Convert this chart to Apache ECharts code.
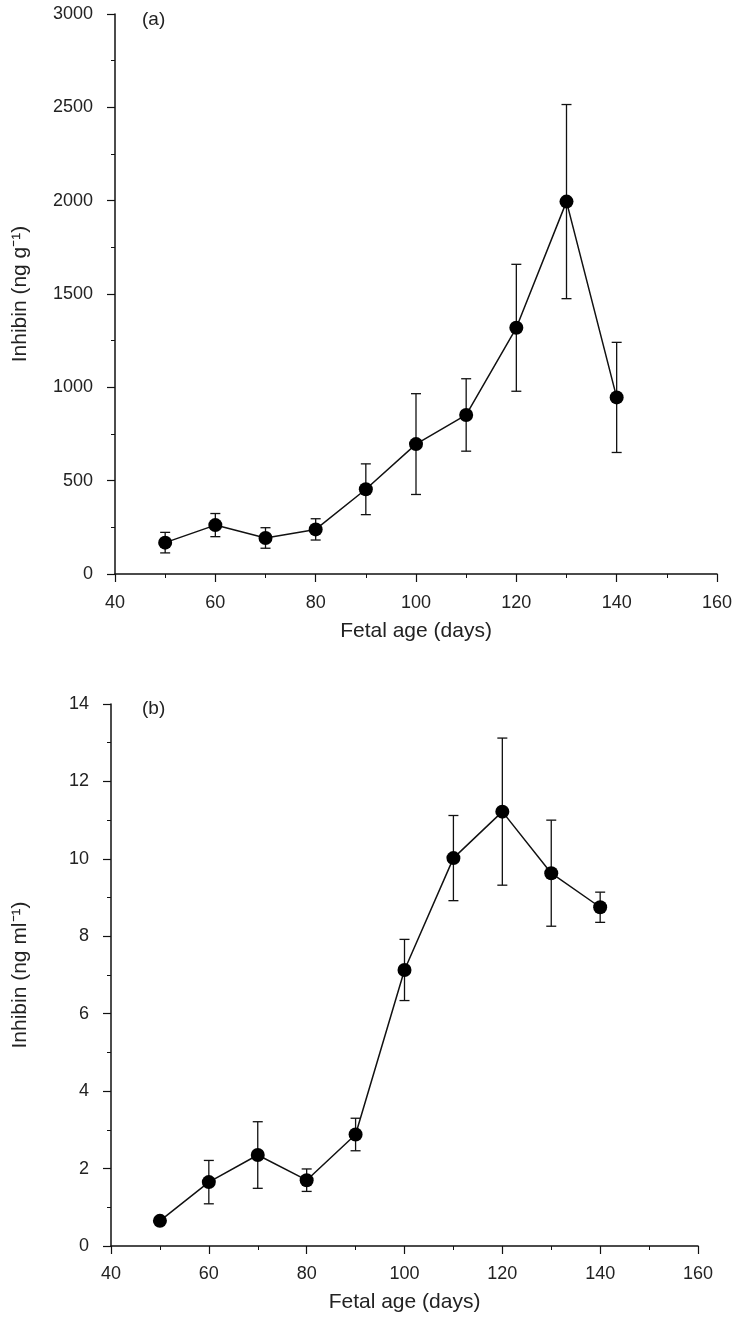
<!DOCTYPE html>
<html>
<head>
<meta charset="utf-8">
<script src="https://cdn.jsdelivr.net/npm/echarts@6/dist/echarts.min.js"></script>
<style>
html,body{margin:0;padding:0;background:#fff;}
#c{width:737px;height:1317px;}
</style>
</head>
<body>
<div id="c"></div>
<script>
// Panel (a): inhibin content (ng/g)
const agesA = [50, 60, 70, 80, 90, 100, 110, 120, 130, 140];
const meanA = [168, 262, 193, 239, 454, 696, 852, 1319, 1995, 946];
const errA  = [55, 62, 55, 57, 136, 270, 194, 340, 520, 295];

// Panel (b): inhibin concentration (ng/ml)
const agesB = [50, 60, 70, 80, 90, 100, 110, 120, 130, 140];
const meanB = [0.65, 1.65, 2.35, 1.70, 2.88, 7.13, 10.02, 11.22, 9.63, 8.75];
const errB  = [0, 0.56, 0.86, 0.29, 0.42, 0.79, 1.10, 1.90, 1.37, 0.39];

const xTicks = [40, 60, 80, 100, 120, 140, 160];
const yTicksA = [0, 500, 1000, 1500, 2000, 2500, 3000];
const yTicksB = [0, 2, 4, 6, 8, 10, 12, 14];

const FONT = '"Liberation Sans", Arial, sans-serif';
const TXT = '#222';

function errData(x, m, e) {
  return x.map((v, i) => [v, m[i] - e[i], m[i] + e[i]]);
}
function renderErr(params, api) {
  const x = api.value(0);
  const lo = api.coord([x, api.value(1)]);
  const hi = api.coord([x, api.value(2)]);
  const cap = 5;
  if (Math.abs(lo[1] - hi[1]) < 1) return null;
  const st = { stroke: '#111', lineWidth: 1.3 };
  return {
    type: 'group',
    children: [
      { type: 'line', shape: { x1: lo[0], y1: lo[1], x2: hi[0], y2: hi[1] }, style: st },
      { type: 'line', shape: { x1: hi[0] - cap, y1: hi[1], x2: hi[0] + cap, y2: hi[1] }, style: st },
      { type: 'line', shape: { x1: lo[0] - cap, y1: lo[1], x2: lo[0] + cap, y2: lo[1] }, style: st }
    ]
  };
}

function xAxis(gi, gap, margin) {
  return {
    type: 'value', gridIndex: gi, min: 40, max: 160, interval: 20,
    name: 'Fetal age (days)', nameLocation: 'middle', nameGap: gap,
    nameTextStyle: { fontFamily: FONT, fontSize: 21, color: TXT },
    axisLine: { show: true, onZero: false, lineStyle: { color: '#111', width: 1.5 } },
    axisTick: { show: true, inside: false, length: 8, lineStyle: { color: '#111', width: 1.2 } },
    minorTick: { show: true, splitNumber: 2, length: 4, lineStyle: { color: '#111', width: 1 } },
    splitLine: { show: false },
    axisLabel: { fontFamily: FONT, fontSize: 18, color: TXT, margin: margin,
      formatter: v => xTicks.includes(v) ? String(v) : '' }
  };
}
function yAxis(gi, max, interval, name, ticks, gap) {
  return {
    type: 'value', gridIndex: gi, min: 0, max: max, interval: interval,
    name: name, nameLocation: 'middle', nameGap: gap, nameRotate: 90,
    nameTextStyle: { fontFamily: FONT, fontSize: 21, color: TXT },
    axisLine: { show: true, onZero: false, lineStyle: { color: '#111', width: 1.5 } },
    axisTick: { show: true, inside: false, length: 8, lineStyle: { color: '#111', width: 1.2 } },
    minorTick: { show: true, splitNumber: 2, length: 4, lineStyle: { color: '#111', width: 1 } },
    splitLine: { show: false },
    axisLabel: { fontFamily: FONT, fontSize: 18, color: TXT, margin: 22,
      formatter: v => ticks.includes(v) ? String(v) : '' }
  };
}

const chart = echarts.init(document.getElementById('c'), null, { renderer: 'canvas' });
chart.setOption({
  animation: false,
  backgroundColor: '#fff',
  grid: [
    { left: 115, width: 602, top: 14, height: 560 },
    { left: 111, width: 587, top: 704, height: 542 }
  ],
  xAxis: [xAxis(0, 47, 20), xAxis(1, 46, 19)],
  yAxis: [
    yAxis(0, 3000, 500, 'Inhibin (ng g⁻¹)', yTicksA, 84),
    yAxis(1, 14, 2, 'Inhibin (ng ml⁻¹)', yTicksB, 80)
  ],
  graphic: [
    { type: 'text', left: 142, top: 10, style: { text: '(a)', font: '19px ' + FONT, fill: TXT } },
    { type: 'text', left: 142, top: 699, style: { text: '(b)', font: '19px ' + FONT, fill: TXT } }
  ],
  series: [
    { type: 'custom', xAxisIndex: 0, yAxisIndex: 0, renderItem: renderErr,
      data: errData(agesA, meanA, errA), z: 2 },
    { type: 'line', xAxisIndex: 0, yAxisIndex: 0,
      data: agesA.map((v, i) => [v, meanA[i]]),
      symbol: 'circle', symbolSize: 14,
      lineStyle: { color: '#111', width: 1.5 }, itemStyle: { color: '#000' }, z: 3 },
    { type: 'custom', xAxisIndex: 1, yAxisIndex: 1, renderItem: renderErr,
      data: errData(agesB, meanB, errB), z: 2 },
    { type: 'line', xAxisIndex: 1, yAxisIndex: 1,
      data: agesB.map((v, i) => [v, meanB[i]]),
      symbol: 'circle', symbolSize: 14,
      lineStyle: { color: '#111', width: 1.5 }, itemStyle: { color: '#000' }, z: 3 }
  ]
});
</script>
</body>
</html>
